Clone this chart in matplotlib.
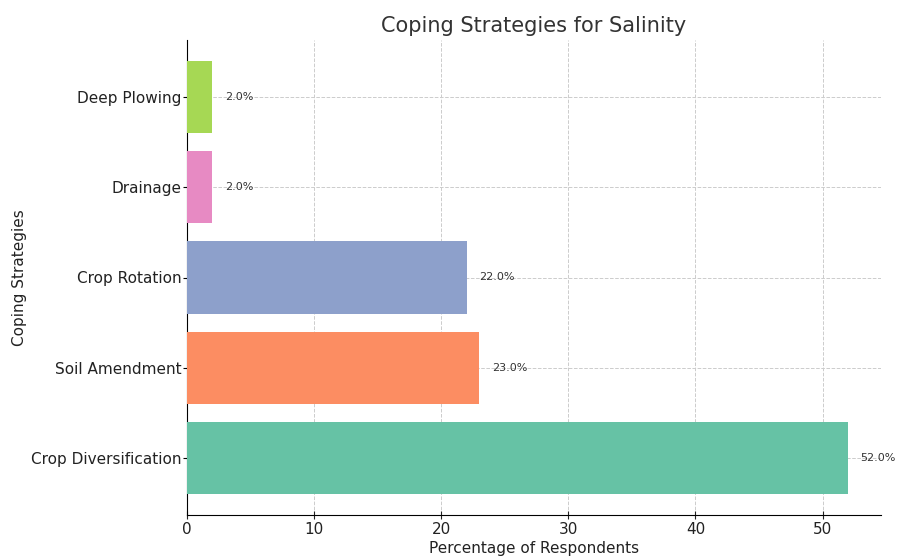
import matplotlib
matplotlib.use("Agg")
import matplotlib.pyplot as plt

strategies = ["Crop Diversification", "Soil Amendment", "Crop Rotation", "Drainage", "Deep Plowing"]
percentages = [52.0, 23.0, 22.0, 2.0, 2.0]
colors = ["#66c2a5", "#fc8d62", "#8da0cb", "#e78ac3", "#a6d854"]

fig = plt.figure(figsize=(8.97, 5.59), dpi=100)
ax = fig.add_axes([187 / 897, 1 - 515 / 559, (881 - 187) / 897, (515 - 40) / 559])

y = list(range(len(strategies)))
ax.barh(y, percentages, height=0.8, color=colors, zorder=3)

for yi, v in zip(y, percentages):
    ax.text(v + 1.0, yi, f"{v:.1f}%", va="center", ha="left", fontsize=8, color="#333333")

ax.set_yticks(y)
ax.set_yticklabels(strategies, fontsize=11, color="#222222")
ax.tick_params(axis="y", direction="inout", length=6, pad=1)
ax.tick_params(axis="x", labelsize=11, colors="#222222", direction="inout", length=6, pad=2)
ax.set_xlim(0, 54.6)
ax.set_ylim(-0.63, 4.63)
ax.set_xticks([0, 10, 20, 30, 40, 50])

ax.grid(True, linestyle="--", color="#cccccc", linewidth=0.7, zorder=0)
ax.spines["top"].set_visible(False)
ax.spines["right"].set_visible(False)

ax.set_title("Coping Strategies for Salinity", fontsize=15, color="#333333", pad=6)
ax.set_xlabel("Percentage of Respondents", fontsize=11, color="#222222", labelpad=3)
ax.set_ylabel("Coping Strategies", fontsize=11, color="#222222")
ax.yaxis.set_label_coords(-0.23, 0.5)

fig.savefig("out.png", dpi=100)
